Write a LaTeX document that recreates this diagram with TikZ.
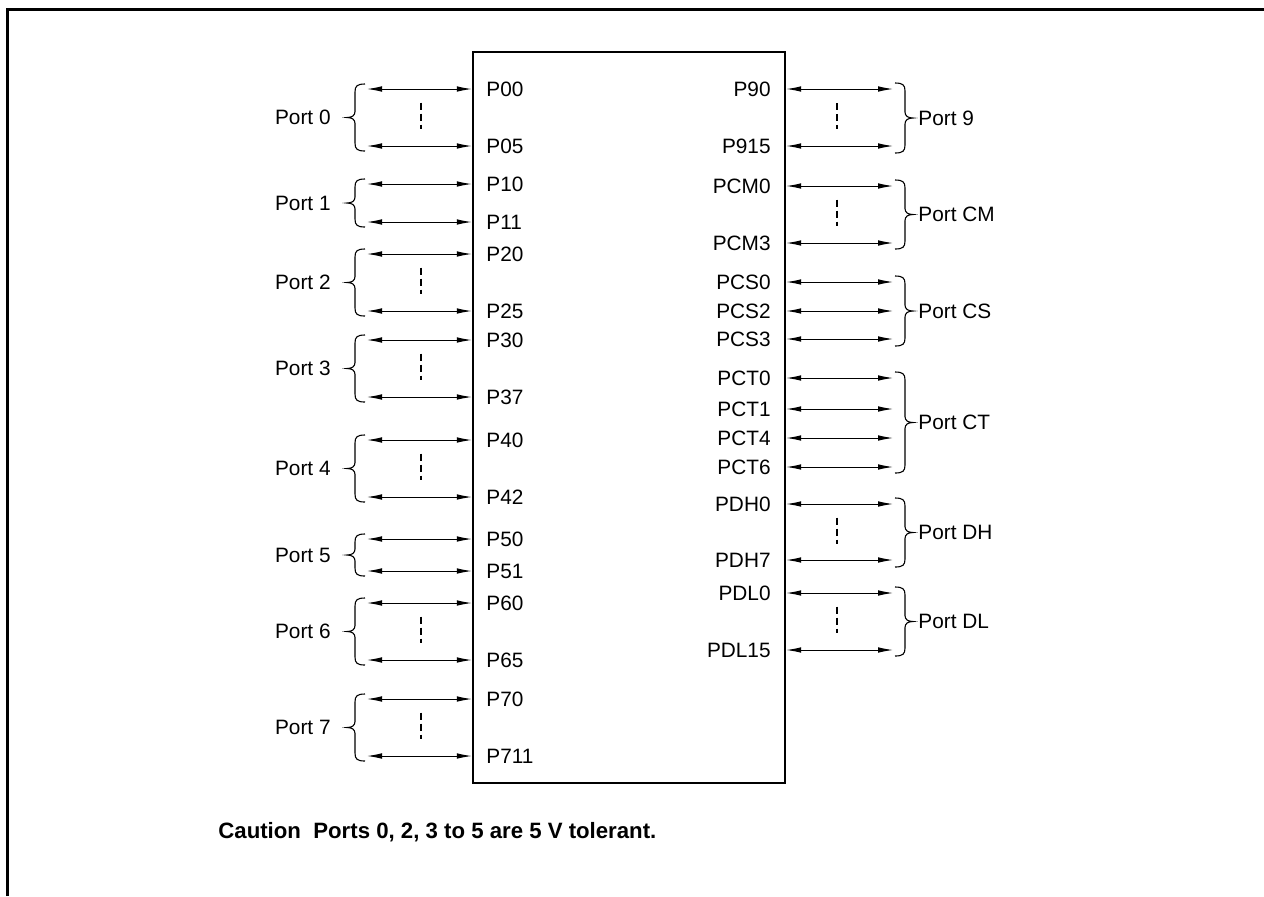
\documentclass[tikz,border=0pt]{standalone}
\usepackage{fontspec}
\setmainfont{Liberation Sans}
\usetikzlibrary{arrows.meta}
\newcommand\LBr[4]{% name, top, bottom, label
  \pgfmathsetmacro\midy{(#2+#3)/2}
  \draw[brc] (365,#2) .. controls (357,#2) and (355,#2+2) .. (355,#2+8) -- (355,\midy-6)
    .. controls (355,\midy-2) and (352,\midy) .. (347,\midy)
    .. controls (352,\midy) and (355,\midy+2) .. (355,\midy+6) -- (355,#3-8)
    .. controls (355,#3-2) and (357,#3) .. (365,#3);
  \node[portlbl, anchor=east] (#1) at (331,\midy) {#4};
}
\newcommand\RBr[4]{% name, top, bottom, label
  \pgfmathsetmacro\midy{(#2+#3)/2}
  \draw[brc] (895,#2) .. controls (903,#2) and (905,#2+2) .. (905,#2+8) -- (905,\midy-6)
    .. controls (905,\midy-2) and (908,\midy) .. (913,\midy)
    .. controls (908,\midy) and (905,\midy+2) .. (905,\midy+6) -- (905,#3-8)
    .. controls (905,#3-2) and (903,#3) .. (895,#3);
  \node[portlbl, anchor=west] (#1) at (918,\midy) {#4};
}
\newcommand\LDots[2]{\pgfmathsetmacro\midy{(#1+#2)/2}\draw[dsh] (421,\midy-15) -- (421,\midy+11);}
\newcommand\RDots[2]{\pgfmathsetmacro\midy{(#1+#2)/2}\draw[dsh] (837,\midy-15) -- (837,\midy+11);}
\begin{document}
\begin{tikzpicture}[x=0.5pt,y=-0.5pt,
  pinarrow/.style={line width=0.5pt,{Latex[length=7.5pt,width=2.8pt]}-{Latex[length=7.5pt,width=2.8pt]}},
  brc/.style={line width=0.55pt},
  dsh/.style={line width=0.6pt,dash pattern=on 3.5pt off 2pt},
  pinlbl/.style={inner sep=0pt,font=\fontsize{10.4}{12}\selectfont},
  portlbl/.style={inner sep=0pt,font=\fontsize{10.4}{12}\selectfont},
  chipbox/.style={draw,line width=1.2pt,inner sep=0pt}]
\useasboundingbox (0,0) rectangle (1264,896);
\draw[line width=1.5pt] (7,896) -- (7,9) -- (1264,9);
\node[chipbox, minimum width=156pt, minimum height=365.5pt] (chip) at (629,417.5) {};
% left pins
\foreach \y/\t in {89/P00,146/P05,184/P10,222/P11,254/P20,311/P25,340/P30,397/P37,440/P40,497/P42,539/P50,571/P51,603/P60,660/P65,699/P70,756/P711}{
  \coordinate (a\t) at (367,\y);
  \coordinate (b\t) at (chip.west |- a\t);
  \draw[pinarrow] (a\t) -- (b\t);
  \node[pinlbl, anchor=west] (n\t) at (486,\y) {\t};
}
% right pins
\foreach \y/\t in {89/P90,146/P915,186/PCM0,243/PCM3,282/PCS0,311/PCS2,339/PCS3,378/PCT0,409/PCT1,438/PCT4,467/PCT6,504/PDH0,560/PDH7,593/PDL0,650/PDL15}{
  \coordinate (c\t) at (893,\y);
  \coordinate (d\t) at (chip.east |- c\t);
  \draw[pinarrow] (d\t) -- (c\t);
  \node[pinlbl, anchor=east] (n\t) at (771,\y) {\t};
}
\LBr{port0}{84}{151}{Port 0}
\LBr{port1}{179}{227}{Port 1}
\LBr{port2}{249}{316}{Port 2}
\LBr{port3}{335}{402}{Port 3}
\LBr{port4}{435}{502}{Port 4}
\LBr{port5}{534}{576}{Port 5}
\LBr{port6}{598}{665}{Port 6}
\LBr{port7}{694}{761}{Port 7}
\LDots{84}{151}\LDots{249}{316}\LDots{335}{402}\LDots{435}{502}\LDots{598}{665}\LDots{694}{761}
\RBr{port9}{83}{153}{Port 9}
\RBr{portcm}{180}{249}{Port CM}
\RBr{portcs}{276}{346}{Port CS}
\RBr{portct}{372}{473}{Port CT}
\RBr{portdh}{498}{567}{Port DH}
\RBr{portdl}{587}{656}{Port DL}
\RDots{83}{153}\RDots{180}{249}\RDots{498}{567}\RDots{587}{656}
\node[anchor=west, inner sep=0pt, font=\bfseries\fontsize{11.1}{13}\selectfont] (caution) at (218,832) {Caution\ \ Ports 0, 2, 3 to 5 are 5 V tolerant.};
\end{tikzpicture}
\end{document}
